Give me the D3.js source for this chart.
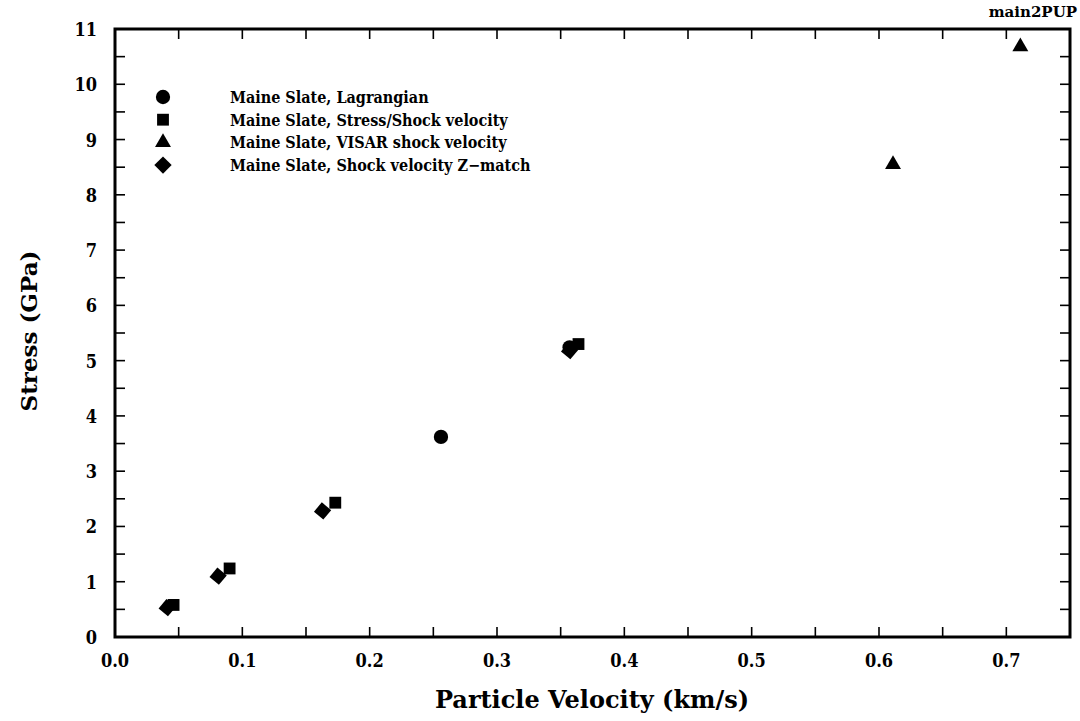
<!DOCTYPE html>
<html>
<head>
<meta charset="utf-8">
<script src="https://cdn.jsdelivr.net/npm/d3@7"></script>
<style>
  body { margin: 0; background: #fff; }
  text { font-family: "DejaVu Serif", serif; font-weight: bold; fill: #000; }
  .cond { font-family: "DejaVu Serif Condensed", "DejaVu Serif", serif; font-stretch: condensed; }
</style>
</head>
<body>
<svg id="chart" width="1080" height="721"></svg>
<script>
// values
const lagrangian = [[0.256, 3.62], [0.357, 5.24]];
const stressShock = [[0.046, 0.58], [0.090, 1.24], [0.173, 2.43], [0.364, 5.30]];
const visar = [[0.611, 8.55], [0.711, 10.68]];
const zMatch = [[0.041, 0.53], [0.081, 1.10], [0.163, 2.28], [0.357, 5.18]];

const xTicks = [0, 0.1, 0.2, 0.3, 0.4, 0.5, 0.6, 0.7];
const yTicks = d3.range(0, 12);
const legendNames = [
  "Maine Slate, Lagrangian",
  "Maine Slate, Stress/Shock velocity",
  "Maine Slate, VISAR shock velocity",
  "Maine Slate, Shock velocity Z\u2212match"
];

const m = {left: 115, right: 1070, top: 29, bottom: 637};
const x = d3.scaleLinear().domain([0, 0.75]).range([m.left, m.right]);
const y = d3.scaleLinear().domain([0, 11]).range([m.bottom, m.top]);

const svg = d3.select("#chart");

// inward ticks on all four sides, every 0.05 / 0.5
const xMinor = d3.range(0, 0.751, 0.05);
const yMinor = d3.range(0, 11.01, 0.5);
const tk = 10;
const axes = svg.append("g").attr("stroke", "#000").attr("stroke-width", 1.6);
xMinor.forEach(v => {
  axes.append("line").attr("x1", x(v)).attr("x2", x(v)).attr("y1", m.bottom).attr("y2", m.bottom - tk);
  axes.append("line").attr("x1", x(v)).attr("x2", x(v)).attr("y1", m.top).attr("y2", m.top + tk);
});
yMinor.forEach(v => {
  axes.append("line").attr("y1", y(v)).attr("y2", y(v)).attr("x1", m.left).attr("x2", m.left + tk);
  axes.append("line").attr("y1", y(v)).attr("y2", y(v)).attr("x1", m.right).attr("x2", m.right - tk);
});
svg.append("rect")
  .attr("x", m.left).attr("y", m.top)
  .attr("width", m.right - m.left).attr("height", m.bottom - m.top)
  .attr("fill", "none").attr("stroke", "#000").attr("stroke-width", 3);

svg.append("g").selectAll("text").data(xTicks).join("text")
  .attr("class", "cond")
  .attr("x", d => x(d)).attr("y", 667)
  .attr("text-anchor", "middle").attr("font-size", 18)
  .text(d => d.toFixed(1));
svg.append("g").selectAll("text").data(yTicks).join("text")
  .attr("class", "cond")
  .attr("x", 97).attr("y", d => y(d) + 7)
  .attr("text-anchor", "end").attr("font-size", 18)
  .text(d => d);

svg.append("text").attr("x", 592).attr("y", 708)
  .attr("text-anchor", "middle").attr("font-size", 24)
  .text("Particle Velocity (km/s)");
svg.append("text")
  .attr("transform", "translate(37,331) rotate(-90)")
  .attr("text-anchor", "middle").attr("font-size", 23)
  .text("Stress (GPa)");
svg.append("text").attr("x", 1077).attr("y", 17)
  .attr("text-anchor", "end").attr("font-size", 15)
  .text("main2PUP");

// markers
const sym = [
  d3.symbol().type(d3.symbolCircle).size(160),
  d3.symbol().type(d3.symbolSquare).size(140),
  d3.symbol().type(d3.symbolTriangle).size(110),
  d3.symbol().type(d3.symbolSquare).size(150)
];
const series = [lagrangian, stressShock, visar, zMatch];
// squares first, diamonds/circles on top like the original
[1, 2, 0, 3].forEach(i => {
  svg.append("g").selectAll("path").data(series[i]).join("path")
    .attr("d", sym[i])
    .attr("transform", d => `translate(${x(d[0])},${y(d[1])})` + (i === 3 ? " rotate(40)" : ""))
    .attr("fill", "#000");
});

// legend
const lg = svg.append("g");
legendNames.forEach((name, i) => {
  const ly = 97 + i * 22.7;
  lg.append("path").attr("d", sym[i])
    .attr("transform", `translate(163,${ly})` + (i === 3 ? " rotate(45)" : ""))
    .attr("fill", "#000");
  lg.append("text").attr("class", "cond").attr("x", 230).attr("y", ly + 6)
    .attr("font-size", 16).text(name);
});
</script>
</body>
</html>
